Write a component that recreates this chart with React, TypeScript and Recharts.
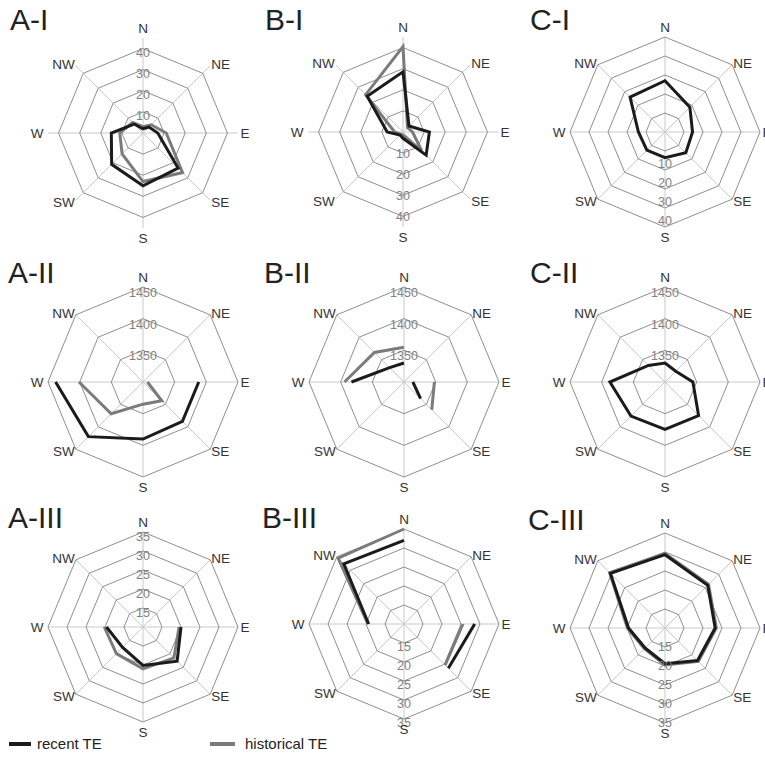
import React from "react";
import { RadarChart, Radar, PolarGrid, PolarAngleAxis, PolarRadiusAxis } from "recharts";

const DIRECTIONS = ["N", "NE", "E", "SE", "S", "SW", "W", "NW"];

// values in the order N, NE, E, SE, S, SW, W, NW (null = no data)
const A1_RECENT = [2, 4, 7, 23.5, 25, 21, 15, 6];
const A1_HISTORICAL = [3, 5.5, 11, 26.5, 23, 14, 11, 7];
const B1_RECENT = [28.5, 4, 12.5, 15.5, 3, 2, 7.5, 24];
const B1_HISTORICAL = [40.5, 3, 4.5, 12.5, 1.5, 1.5, 4, 25];
const C1_RECENT = [17, 8.5, 4.5, 5.5, 3.5, 3.5, 4, 16];

const A2_RECENT = [null, null, 1388, 1388, 1390, 1422, 1438, null];
const A2_HISTORICAL = [null, null, 1307, 1342, 1335, 1371, 1401, null];
const B2_RECENT = [1330, null, 1314, 1337, null, null, 1383, 1332];
const B2_HISTORICAL = [1355, null, 1348, 1362, null, null, 1394, 1366];
const C2_RECENT = [1330, 1324, 1344, 1375, 1375, 1376, 1387, 1337];

const A3_RECENT = [null, null, 20, 22.7, 20.1, 17.6, 19.6, null];
const A3_HISTORICAL = [null, null, 19.5, 21.5, 21, 19.9, 20.2, null];
const B3_RECENT = [32, null, 28.6, 26.5, null, null, 19.3, 32.4];
const B3_HISTORICAL = [35, null, 25.5, 25.3, null, null, 19.5, 34.5];
const C3_RECENT = [29.3, 25.9, 23.2, 22.1, 19.4, 17.4, 19.6, 30.3];
const C3_HISTORICAL = [29.6, 26.2, 23.5, 22.4, 19.7, 17.7, 19.9, 30.6];

const TICKS_I = [0, 10, 20, 30, 40];
const TICKS_C_I = [-10, 0, 10, 20, 30, 40];
const TICKS_II = [1300, 1350, 1400, 1450];
const TICKS_III = [10, 15, 20, 25, 30, 35];

const RECENT_COLOR = "#1b1b1b";
const HISTORICAL_COLOR = "#7b7b7b";
const R = 95;
const BOX_W = 260;
const BOX_H = 250;

type Panel = {
  title: string;
  cx: number;
  cy: number;
  domain: [number, number];
  ticks: number[];
  hidden: number[];
  side: "N" | "S";
  shift: number; // vertical nudge of the value labels
  recent: (number | null)[];
  historical?: (number | null)[];
};

const PANELS: Panel[] = [
  { title: "A-I", cx: 143, cy: 133, domain: [0, 45], ticks: TICKS_I, hidden: [0], side: "N", shift: 4, recent: A1_RECENT, historical: A1_HISTORICAL },
  { title: "B-I", cx: 403, cy: 132, domain: [0, 45], ticks: TICKS_I, hidden: [0], side: "S", shift: 1, recent: B1_RECENT, historical: B1_HISTORICAL },
  { title: "C-I", cx: 665, cy: 132, domain: [-10, 40], ticks: TICKS_C_I, hidden: [-10, 0], side: "S", shift: -6, recent: C1_RECENT },
  { title: "A-II", cx: 143, cy: 382, domain: [1300, 1450], ticks: TICKS_II, hidden: [1300], side: "N", shift: 6, recent: A2_RECENT, historical: A2_HISTORICAL },
  { title: "B-II", cx: 404, cy: 382, domain: [1300, 1450], ticks: TICKS_II, hidden: [1300], side: "N", shift: 6, recent: B2_RECENT, historical: B2_HISTORICAL },
  { title: "C-II", cx: 665, cy: 382, domain: [1300, 1450], ticks: TICKS_II, hidden: [1300], side: "N", shift: 6, recent: C2_RECENT },
  { title: "A-III", cx: 143, cy: 627, domain: [10, 35], ticks: TICKS_III, hidden: [10], side: "N", shift: 5, recent: A3_RECENT, historical: A3_HISTORICAL },
  { title: "B-III", cx: 404, cy: 624, domain: [10, 35], ticks: TICKS_III, hidden: [10], side: "S", shift: 4, recent: B3_RECENT, historical: B3_HISTORICAL },
  { title: "C-III", cx: 665, cy: 628, domain: [10, 35], ticks: TICKS_III, hidden: [10], side: "S", shift: 0, recent: C3_RECENT, historical: C3_HISTORICAL },
];

const TITLES = [
  { text: "A-I", x: 10, y: 30 },
  { text: "B-I", x: 265, y: 30 },
  { text: "C-I", x: 530, y: 30 },
  { text: "A-II", x: 8, y: 283 },
  { text: "B-II", x: 264, y: 283 },
  { text: "C-II", x: 530, y: 283 },
  { text: "A-III", x: 8, y: 528 },
  { text: "B-III", x: 262, y: 528 },
  { text: "C-III", x: 528, y: 530 },
];

const FONT = "'Liberation Sans', Arial, sans-serif";

// line through the valid points; closed only when no value is missing
function RadarLine(props: any) {
  const { points, stroke, strokeWidth } = props;
  const n = points.length;
  const ok = points.map((p: any) => p.value != null && Number.isFinite(p.x) && Number.isFinite(p.y));
  let d = "";
  if (ok.every(Boolean)) {
    d = points.map((p: any, i: number) => `${i ? "L" : "M"}${p.x},${p.y}`).join("") + "Z";
  } else {
    for (let i = 0; i < n; i++) {
      if (!ok[i] || ok[(i - 1 + n) % n]) continue;
      let j = i;
      while (ok[j % n]) {
        const p = points[j % n];
        d += `${j === i ? "M" : "L"}${p.x},${p.y}`;
        j++;
      }
    }
  }
  return <path d={d} fill="none" stroke={stroke} strokeWidth={strokeWidth} strokeLinejoin="miter" />;
}

// direction labels, placed next to the end of each spoke
function AngleTick(props: any) {
  const { payload } = props;
  const a = (payload.coordinate * Math.PI) / 180;
  const c = Math.cos(a);
  const s = Math.sin(a);
  const px = BOX_W / 2 + R * c;
  const py = BOX_H / 2 - R * s;
  let tx = px;
  let ty = py;
  let anchor: "start" | "middle" | "end" = "middle";
  if (Math.abs(c) > 0.3 && Math.abs(s) > 0.3) {
    anchor = c > 0 ? "start" : "end";
    tx = px + (c > 0 ? 1 : -1);
    ty = py + (s > 0 ? -1 : 2);
  } else if (Math.abs(c) > 0.5) {
    anchor = c > 0 ? "start" : "end";
    tx = px + (c > 0 ? 2.5 : -4.5);
  } else {
    ty = py + (s > 0 ? -10 : 10);
  }
  return (
    <text x={tx} y={ty} textAnchor={anchor} dominantBaseline="central" fill="#333" fontSize={13.5} fontFamily={FONT}>
      {payload.value}
    </text>
  );
}

const radiusTick = (hidden: number[], shift: number) => (props: any) => {
  const { x, y, payload } = props;
  if (hidden.includes(payload.value)) return <g />;
  return (
    <text x={x} y={y + shift} textAnchor="middle" dominantBaseline="central" fill="#808080" fontSize={12.5} fontFamily={FONT}>
      {payload.value}
    </text>
  );
};

function PanelChart({ p }: { p: Panel }) {
  const data = DIRECTIONS.map((dir, i) => ({
    dir,
    recent: p.recent[i],
    historical: p.historical ? p.historical[i] : null,
  }));
  return (
    <div style={{ position: "absolute", left: p.cx - BOX_W / 2, top: p.cy - BOX_H / 2, width: BOX_W, height: BOX_H }}>
      <RadarChart width={BOX_W} height={BOX_H} data={data} cx={BOX_W / 2} cy={BOX_H / 2} outerRadius={R} margin={{ top: 0, right: 0, bottom: 0, left: 0 }}>
        <PolarGrid gridType="polygon" polarRadius={[]} stroke="#c9c9c9" strokeWidth={1} />
        <PolarGrid gridType="polygon" radialLines={false} stroke="#8f8f8f" strokeWidth={1} />
        <PolarRadiusAxis
          type="number"
          angle={p.side === "N" ? 90 : 270}
          domain={p.domain}
          ticks={p.ticks}
          allowDataOverflow
          axisLine={false}
          tickLine={false}
          tick={radiusTick(p.hidden, p.shift)}
        />
        <PolarAngleAxis dataKey="dir" tick={AngleTick} tickLine={false} axisLine={false} />
        {p.historical && (
          <Radar dataKey="historical" stroke={HISTORICAL_COLOR} strokeWidth={3} fill="none" dot={false} shape={RadarLine} isAnimationActive={false} />
        )}
        <Radar dataKey="recent" stroke={RECENT_COLOR} strokeWidth={3} fill="none" dot={false} shape={RadarLine} isAnimationActive={false} />
      </RadarChart>
    </div>
  );
}

export default function App() {
  return (
    <div style={{ position: "absolute", left: 0, top: 0, width: 765, height: 762, overflow: "hidden", background: "#fff" }}>
      {PANELS.map((p) => (
        <PanelChart key={p.title} p={p} />
      ))}
      <svg width={765} height={762} style={{ position: "absolute", left: 0, top: 0, pointerEvents: "none" }}>
        {TITLES.map((t) => (
          <text key={t.text} x={t.x} y={t.y} fontSize={30} fontFamily={FONT} fill="#222">
            {t.text}
          </text>
        ))}
        <line x1={9} x2={31} y1={744} y2={744} stroke={RECENT_COLOR} strokeWidth={4} />
        <text x={37} y={749} fontSize={15} fontFamily={FONT} fill="#222">recent TE</text>
        <line x1={210} x2={235} y1={744} y2={744} stroke={HISTORICAL_COLOR} strokeWidth={4} />
        <text x={245} y={749} fontSize={15} fontFamily={FONT} fill="#222">historical TE</text>
      </svg>
    </div>
  );
}
